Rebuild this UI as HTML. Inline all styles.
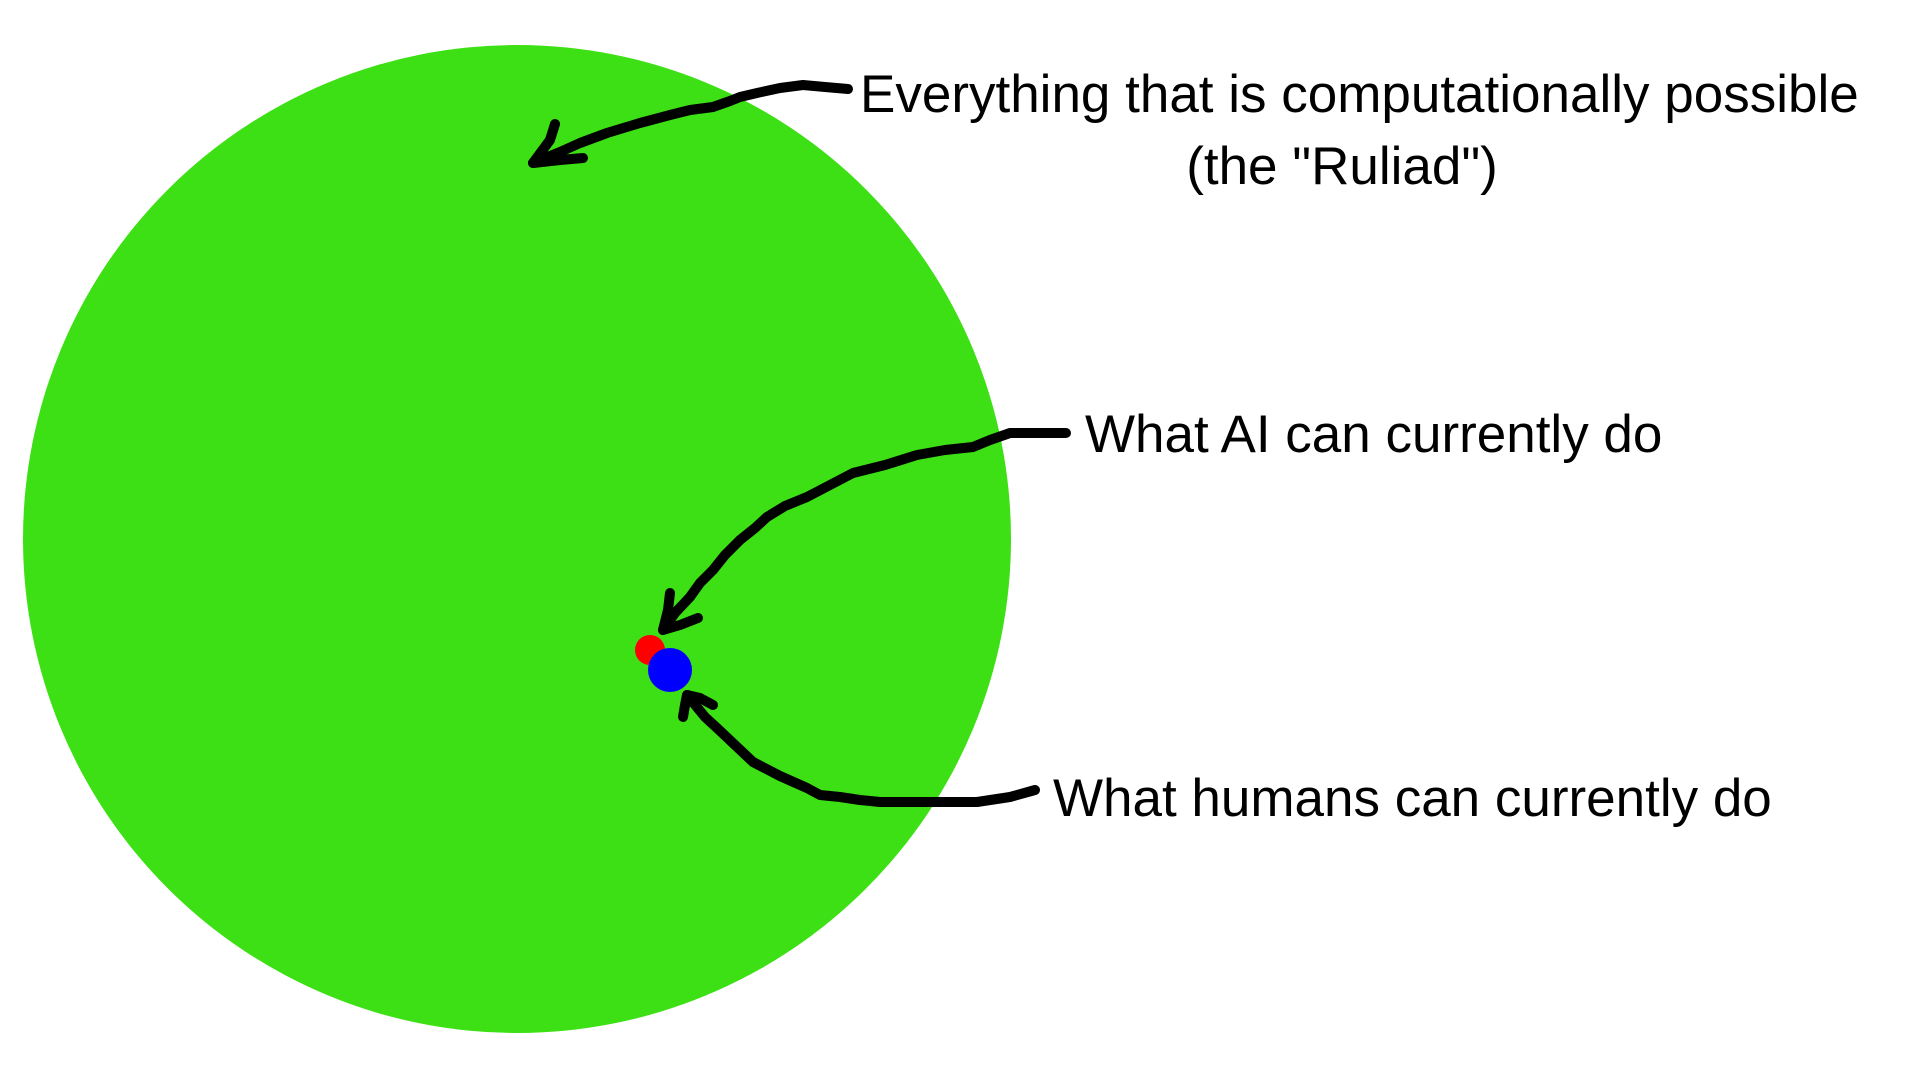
<!DOCTYPE html>
<html><head><meta charset="utf-8"><style>
html,body{margin:0;padding:0;background:#fff;width:1920px;height:1080px;overflow:hidden}
svg{display:block}
text{font-family:"Liberation Sans",Arial,sans-serif;font-size:53px;fill:#000}
</style></head><body>
<svg width="1920" height="1080" viewBox="0 0 1920 1080">
<circle cx="517" cy="539" r="494" fill="#3de014"/>
<circle cx="650" cy="650" r="15" fill="#ff0000"/>
<circle cx="670" cy="670" r="22" fill="#0000ff"/>
<g transform="translate(0,0)" fill="none" stroke="#000" stroke-width="10" stroke-linecap="round" stroke-linejoin="round">
<path d="M848,89 L825,87 L803,85 L780,88 L757,93 L740,97 L730,101 L713,107 L690,110 L670,115 L640,123 L607,133 L580,143 L560,152 L533,163"/>
<path d="M555,124 L550,140 L533,163 L560,160 L583,158"/>
<path d="M1066,433 L1040,433 L1010,433 L990,440 L973,447 L945,450 L917,455 L885,465 L853,473 L830,485 L807,497 L785,506 L767,517 L755,528 L740,540 L725,555 L713,570 L700,583 L690,597 L675,613 L663,630"/>
<path d="M670,593 L668,610 L663,630 L680,625 L698,618"/>
<path d="M1035,790 L1010,797 L977,802 L930,802 L880,802 L860,800 L840,797 L820,795 L807,788 L780,776 L753,762 L735,745 L717,728 L705,717 L687,695"/>
<path d="M683,717 L685,705 L687,695 L700,698 L713,705"/>
</g>
<text x="860" y="112">Everything that is computationally possible</text>
<text x="1342" y="184" text-anchor="middle">(the "Ruliad")</text>
<text x="1085" y="452">What AI can currently do</text>
<text x="1053" y="816">What humans can currently do</text>
</svg>
</body></html>
